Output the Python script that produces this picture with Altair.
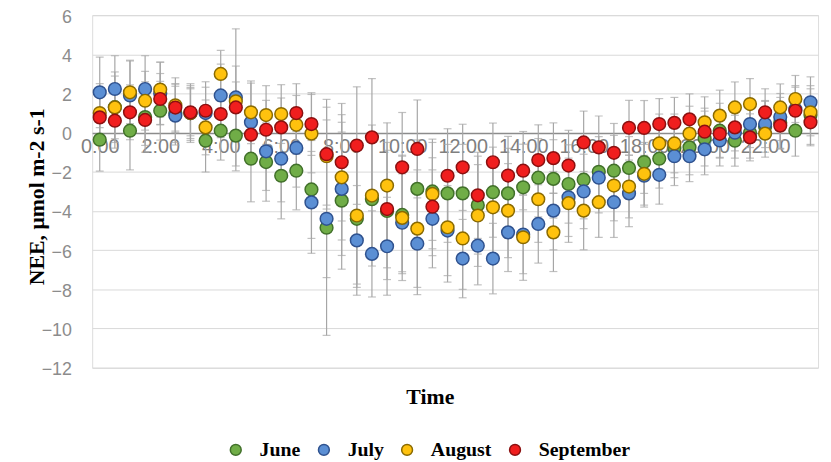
import altair as alt
import pandas as pd

times = [f"{h}:{m:02d}" for h in range(24) for m in (0, 30)]
tick_labels = ["0:00", "2:00", "4:00", "6:00", "8:00", "10:00", "12:00",
               "14:00", "16:00", "18:00", "20:00", "22:00"]
y_ticks = [-12, -10, -8, -6, -4, -2, 0, 2, 4, 6]
series_names = ["June", "July", "August", "September"]

june = [-0.36, 1.3, 0.1, 0.8, 1.12, 1.0, 1.0, -0.41, 0.1, -0.15, -1.33, -1.5,
        -2.2, -1.94, -2.9, -4.85, -3.47, -4.4, -3.4, -4.0, -4.2, -2.87, -3.0, -3.1,
        -3.1, -3.7, -3.04, -3.1, -2.79, -2.3, -2.36, -2.62, -2.4, -2.0, -1.94, -1.8,
        -1.5, -1.33, -0.8, -0.75, -0.3, 0.1, -0.41, 0.0, 0.3, 0.5, 0.1, 0.9]
july = [2.06, 2.23, 1.9, 2.23, 2.0, 0.87, 1.0, 1.0, 1.9, 1.8, 0.53, -0.95,
        -1.33, -0.78, -3.56, -4.4, -2.87, -5.5, -6.19, -5.8, -4.6, -5.67, -4.4, -5.0,
        -6.43, -5.77, -6.43, -5.09, -5.2, -4.66, -3.98, -3.3, -3.0, -2.3, -3.55, -3.1,
        -2.2, -2.15, -1.2, -1.2, -0.85, -0.4, 0.0, 0.44, 0.44, 0.8, 1.2, 1.55]
august = [1.0, 1.29, 2.06, 1.63, 2.2, 1.4, 1.0, 0.27, 3.0, 1.6, 1.04, 0.9,
          0.95, 0.4, -0.05, -1.2, -2.28, -4.23, -3.21, -2.7, -4.35, -4.9, -3.13, -4.83,
          -5.4, -4.23, -3.81, -3.98, -5.34, -3.4, -5.09, -3.6, -3.98, -3.55, -2.7, -2.75,
          -2.1, -0.55, -0.55, -0.05, 0.53, 0.87, 1.29, 1.46, -0.05, 1.29, 1.72, 1.04]
september = [0.78, 0.61, 1.04, 0.65, 1.72, 1.28, 1.04, 1.12, 0.95, 1.29, -0.1, 0.15,
             0.27, 1.0, 0.44, -1.1, -1.51, -0.66, -0.24, -3.9, -1.77, -0.83, -3.78, -2.2,
             -1.77, -3.2, -1.51, -2.19, -1.94, -1.4, -1.3, -1.68, -0.5, -0.75, -1.03, 0.25,
             0.24, 0.44, 0.5, 0.68, 0.05, -0.06, 0.27, -0.24, 1.04, 0.36, 1.12, 0.53]

june_err = [1.6, 1.8, 2.0, 1.8, 1.5, 1.5, 1.4, 1.6, 1.5, 1.8, 2.2, 2.0, 2.2, 2.0, 2.5, 5.5,
            3.5, 3.5, 3.0, 3.5, 3.0, 2.5, 2.5, 2.5, 2.5, 2.5, 2.3, 2.3, 2.2, 2.0, 2.0, 2.0,
            2.0, 1.8, 1.8, 1.6, 1.6, 1.5, 1.5, 1.4, 1.4, 1.4, 1.3, 1.3, 1.3, 1.3, 1.3, 1.5]
july_err = [1.8, 1.7, 1.8, 1.7, 1.6, 1.5, 1.5, 1.6, 1.6, 3.5, 2.0, 2.0, 2.2, 2.0, 2.6, 3.0,
            3.4, 2.8, 2.2, 2.5, 2.5, 2.6, 2.5, 2.3, 2.0, 2.0, 1.8, 2.0, 2.0, 2.0, 2.0, 2.0,
            1.9, 1.8, 1.8, 1.7, 1.6, 1.5, 1.5, 1.3, 1.3, 1.3, 1.3, 1.2, 1.2, 1.2, 1.2, 1.3]
august_err = [1.5, 1.6, 1.6, 1.5, 1.4, 1.4, 1.3, 1.4, 1.2, 1.8, 1.6, 1.5, 1.5, 1.5, 2.0, 2.5,
              3.2, 3.5, 3.6, 3.2, 3.2, 3.0, 2.8, 2.8, 2.6, 2.6, 2.4, 2.4, 2.2, 2.2, 2.0, 2.0,
              2.0, 1.8, 1.8, 1.6, 1.6, 1.5, 1.5, 1.4, 1.3, 1.3, 1.3, 1.3, 1.2, 1.2, 1.2, 1.2]
september_err = [1.4, 1.4, 1.4, 1.3, 1.3, 1.2, 1.2, 1.2, 1.2, 1.3, 1.4, 1.5, 1.5, 1.5, 1.6, 2.8,
                 3.0, 3.0, 3.0, 3.0, 2.8, 2.5, 2.5, 2.4, 2.2, 2.2, 2.0, 2.0, 2.0, 1.8, 1.8, 1.8,
                 1.6, 1.6, 1.5, 1.4, 1.4, 1.3, 1.3, 1.3, 1.2, 1.2, 1.2, 1.2, 1.2, 1.2, 1.2, 1.2]

fills = ["#70AD47", "#5B8FD4", "#FFC20E", "#F01E1E"]
strokes = ["#41702A", "#2F528F", "#8A6A00", "#8B1010"]

rows = []
for k, (name, vals, errs) in enumerate(zip(series_names,
                                           [june, july, august, september],
                                           [june_err, july_err, august_err, september_err])):
    for t, v, e in zip(times, vals, errs):
        rows.append({"time": t, "series": name, "order": k, "nee": v,
                     "lo": v - e, "hi": v + e})
df = pd.DataFrame(rows)

x_axis = alt.Axis(values=tick_labels, labelAngle=0, offset=-237, zindex=0,
                  ticks=False, grid=False,
                  domainColor="#8c8c8c", domainWidth=1.5,
                  labelColor="#7f7f7f", labelFontSize=20,
                  labelFont="Liberation Sans", labelPadding=4,
                  title="Time", titleFont="Liberation Serif",
                  titleFontSize=22, titleFontWeight="bold",
                  titleColor="#000000", titlePadding=232, titleX=341)
y_axis = alt.Axis(values=y_ticks, ticks=False, domain=False, zindex=0,
                  labelOverlap=False, labelOffset=2,
                  gridColor="#d9d9d9", labelColor="#8c8c8c",
                  labelFontSize=18, labelFont="Liberation Sans",
                  labelPadding=21,
                  title="NEE, μmol m-2 s-1", titleFont="Liberation Serif",
                  titleFontSize=22, titleFontWeight="bold",
                  titleColor="#000000", titlePadding=-7, titleY=183)

x_scale = alt.Scale(type="point", padding=0.5)
y_scale = alt.Scale(domain=[-12, 6], nice=False, zero=False)

x_enc = alt.X("time:N", sort=times, scale=x_scale, axis=x_axis)

base = alt.Chart(df)

rules = base.mark_rule(color="#a6a6a6", strokeWidth=1.2).encode(
    x=x_enc,
    y=alt.Y("lo:Q", scale=y_scale, axis=y_axis),
    y2="hi:Q",
)
caps_lo = base.mark_tick(orient="horizontal", color="#a6a6a6", size=8, thickness=1.2).encode(
    x=x_enc, y=alt.Y("lo:Q", scale=y_scale, axis=y_axis))
caps_hi = base.mark_tick(orient="horizontal", color="#a6a6a6", size=8, thickness=1.2).encode(
    x=x_enc, y=alt.Y("hi:Q", scale=y_scale, axis=y_axis))

legend = alt.Legend(orient="none", legendX=135, legendY=429, direction="horizontal",
                    title=None, labelFont="Liberation Serif", labelFontSize=20,
                    labelFontWeight="bold", labelColor="#000000",
                    symbolType="circle", symbolSize=120, symbolStrokeWidth=1.5,
                    columnPadding=13, labelOffset=14)

points = base.mark_circle(size=165, opacity=1, strokeWidth=1.5).encode(
    x=x_enc,
    y=alt.Y("nee:Q", scale=y_scale, axis=y_axis),
    fill=alt.Fill("series:N", sort=series_names,
                  scale=alt.Scale(domain=series_names, range=fills), legend=legend),
    stroke=alt.Stroke("series:N", sort=series_names,
                      scale=alt.Scale(domain=series_names, range=strokes), legend=legend),
    order=alt.Order("order:Q"),
)

chart = alt.layer(rules, caps_lo, caps_hi, points).properties(
    width=733, height=356, autosize="none",
    padding={"left": 85, "top": 5, "right": 5, "bottom": 92},
).configure_view(stroke="#808080", strokeWidth=1.5).configure(background="#ffffff")

chart.save("out.html", embed_options={"renderer": "svg", "actions": False})
